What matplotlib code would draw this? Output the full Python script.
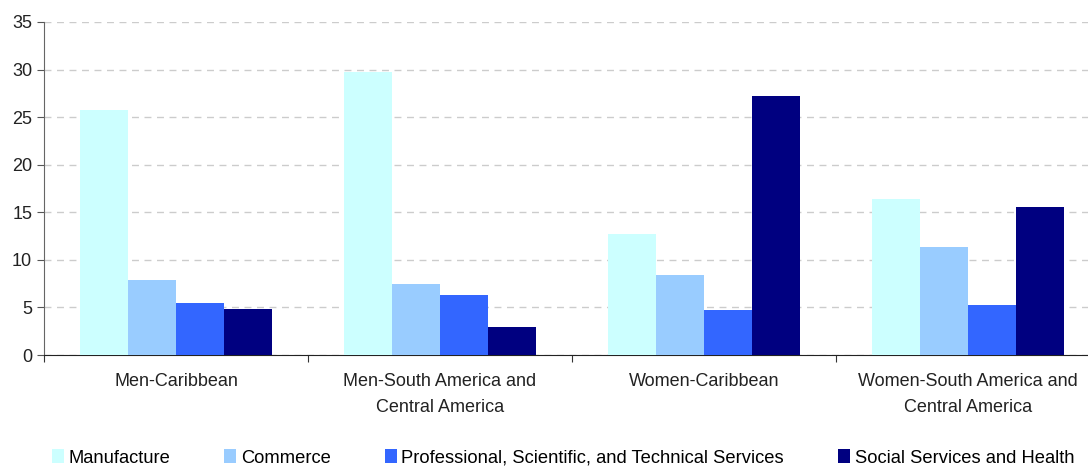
import matplotlib

matplotlib.use("Agg")

import matplotlib.pyplot as plt
import numpy as np

plt.rcParams["font.family"] = ["Liberation Sans", "DejaVu Sans"]

categories = [
    "Men-Caribbean",
    "Men-South America and\nCentral America",
    "Women-Caribbean",
    "Women-South America and\nCentral America",
]
series_names = [
    "Manufacture",
    "Commerce",
    "Professional, Scientific, and Technical Services",
    "Social Services and Health",
]
manufacture = [25.8, 29.7, 12.7, 16.4]
commerce = [7.9, 7.5, 8.4, 11.4]
professional = [5.5, 6.3, 4.7, 5.3]
social = [4.8, 2.9, 27.2, 15.6]
colors = ["#ccffff", "#99ccff", "#3366ff", "#000080"]

values = [manufacture, commerce, professional, social]

fig = plt.figure(figsize=(10.88, 4.66), dpi=100)
ax = fig.add_axes([44 / 1088, 1 - 355 / 466, 1056 / 1088, 333 / 466])

x = np.arange(len(categories))
bar_w = 0.182
for i, (vals, name, c) in enumerate(zip(values, series_names, colors)):
    ax.bar(x + (i - 1.5) * bar_w, vals, width=bar_w, color=c, label=name,
           zorder=3)

ax.set_xlim(-0.5, len(categories) - 0.5)
ax.set_ylim(0, 35)
ax.set_yticks(np.arange(0, 36, 5))
ax.yaxis.grid(True, color="#cccccc", linestyle=(0, (5, 4)), linewidth=1)
ax.set_axisbelow(True)

# boundaries get the tick marks, centres get the labels
ax.set_xticks(np.arange(-0.5, len(categories), 1))
ax.set_xticklabels([])
ax.set_xticks(x, minor=True)
ax.set_xticklabels(categories, minor=True, fontsize=13, color="#222222",
                   linespacing=1.65)
ax.tick_params(axis="x", which="minor", length=0, pad=13)
ax.tick_params(axis="x", which="major", length=5, direction="out",
               color="#333333")
ax.tick_params(axis="y", labelsize=13, length=5, color="#555555",
               labelcolor="#222222")

for s in ["top", "right"]:
    ax.spines[s].set_visible(False)
ax.spines["left"].set_color("#666666")
ax.spines["bottom"].set_color("#222222")

fig.legend(loc="center left", bbox_to_anchor=(52 / 1088, 1 - 458 / 466),
           ncol=4, frameon=False, fontsize=13.2, handlelength=0.65,
           handleheight=0.75, handletextpad=0.25, columnspacing=2.95,
           borderaxespad=0, borderpad=0)

fig.savefig("out.png", dpi=100)
